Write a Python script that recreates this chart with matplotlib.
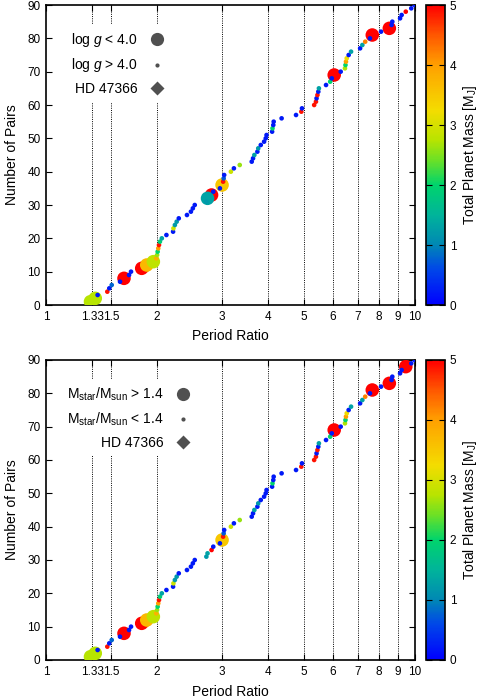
import numpy as np
import matplotlib
matplotlib.use("Agg")
import matplotlib.pyplot as plt
from matplotlib.colors import LinearSegmentedColormap, Normalize
from matplotlib.lines import Line2D
import matplotlib.ticker as mticker

plt.rcParams['font.family'] = ['Liberation Sans', 'DejaVu Sans']
plt.rcParams['mathtext.fontset'] = 'custom'
plt.rcParams['mathtext.rm'] = 'Liberation Sans'
plt.rcParams['mathtext.it'] = 'Liberation Sans:italic'
plt.rcParams['mathtext.bf'] = 'Liberation Sans:bold'

# ---------------- data ----------------
period_ratio = [1.32, 1.36, 1.38, 1.466, 1.484, 1.507, 1.587, 1.627, 1.679, 1.70,
                1.817, 1.875, 1.954, 1.99, 2.00, 2.007, 2.015, 2.024, 2.036, 2.06,
                2.12, 2.21, 2.215, 2.235, 2.26, 2.29, 2.41, 2.47, 2.50, 2.53,
                2.72, 2.74, 2.81, 2.84, 2.96, 3.00, 3.02, 3.03, 3.04, 3.17,
                3.23, 3.35, 3.61, 3.64, 3.67, 3.74, 3.76, 3.82, 3.90, 3.94,
                3.96, 4.10, 4.11, 4.13, 4.14, 4.35, 4.76, 4.92, 4.94, 5.33,
                5.39, 5.41, 5.44, 5.47, 5.49, 5.74, 5.89, 5.95, 6.04, 6.29,
                6.46, 6.48, 6.50, 6.53, 6.61, 6.71, 7.10, 7.20, 7.33, 7.55,
                7.66, 8.09, 8.52, 8.64, 8.68, 9.11, 9.20, 9.44, 9.77, 9.98]

total_mass = [2.75, 2.75, 0.2, 4.9, 0.2, 0.8, 0.2, 5.0, 0.2, 0.2,
              5.0, 3.7, 2.8, 3.8, 2.6, 2.0, 4.0, 4.9, 1.9, 1.3,
              0.2, 0.2, 2.9, 1.2, 1.2, 0.2, 0.2, 0.2, 0.2, 0.2,
              1.2, 1.3, 5.0, 0.2, 0.2, 3.5, 4.9, 0.7, 0.2, 2.9,
              0.2, 2.6, 0.2, 0.2, 1.3, 0.2, 1.2, 0.2, 0.2, 0.2,
              0.2, 0.2, 2.0, 0.2, 0.2, 0.2, 0.2, 4.9, 0.2, 4.9,
              4.9, 0.2, 4.9, 0.2, 1.3, 0.2, 2.0, 0.2, 5.0, 0.2,
              2.7, 2.0, 4.0, 3.2, 0.2, 1.3, 0.2, 1.3, 4.2, 0.2,
              5.0, 0.2, 5.0, 0.2, 0.2, 0.2, 0.2, 5.0, 0.2, 0.2]

# pair numbers (1-based) of the giant hosts
big_logg = [1, 2, 8, 11, 12, 13, 32, 33, 36, 69, 81, 83]      # log g < 4.0
big_mstar = [1, 2, 8, 11, 12, 13, 36, 69, 81, 83, 88]          # Mstar/Msun > 1.4
hd47366_pair = 12

resonances = [4/3, 1.5, 2, 3, 4, 5, 6, 7, 8, 9]
xtick_vals = [1, 4/3, 1.5, 2, 3, 4, 5, 6, 7, 8, 9, 10]
xtick_labels = ['1', '1.33', '1.5', '2', '3', '4', '5', '6', '7', '8', '9', '10']

# ---------------- style ----------------
cmap = LinearSegmentedColormap.from_list('pm', [
    (0.00, '#0000ff'), (0.12, '#0048e8'), (0.20, '#0088b4'), (0.30, '#00b49a'),
    (0.40, '#00d46c'), (0.48, '#68e028'), (0.55, '#b8e400'), (0.65, '#f4dc00'),
    (0.80, '#ffa000'), (0.90, '#ff5800'), (1.00, '#ff0000')])
norm = Normalize(0, 5)

W, H = 484, 700
fig = plt.figure(figsize=(W / 100, H / 100), dpi=100)

count = np.arange(1, len(period_ratio) + 1)
pr = np.array(period_ratio)
ms = np.array(total_mass)

S_BIG, S_SMALL = 95, 11


def panel(bottom_px, big_list, labels, legend_anchor):
    ax = fig.add_axes([46 / W, bottom_px / H, 369 / W, 300 / H])
    cax = fig.add_axes([426 / W, bottom_px / H, 19 / W, 300 / H])
    ax.set_xscale('log')
    ax.set_xlim(1, 10)
    ax.set_ylim(0, 90)
    for r in resonances:
        ax.axvline(r, color='black', ls=(0, (1, 1.3)), lw=0.7, zorder=1)
    is_big = np.isin(count, big_list)
    # HD 47366 diamond (beneath its circle)
    i = hd47366_pair - 1
    ax.scatter([pr[i]], [count[i]], marker='D', s=50, c=[ms[i]], cmap=cmap,
               norm=norm, linewidths=0, zorder=2)
    # big symbols, heavier first
    bidx = np.where(is_big)[0]
    bidx = bidx[np.argsort(-ms[bidx], kind='stable')]
    ax.scatter(pr[bidx], count[bidx], s=S_BIG, c=ms[bidx], cmap=cmap, norm=norm,
               linewidths=0, zorder=3)
    sidx = np.where(~is_big)[0]
    ax.scatter(pr[sidx], count[sidx], s=S_SMALL, c=ms[sidx], cmap=cmap, norm=norm,
               linewidths=0, zorder=4)

    ax.xaxis.set_major_locator(mticker.FixedLocator(xtick_vals))
    ax.xaxis.set_major_formatter(mticker.FixedFormatter(xtick_labels))
    ax.xaxis.set_minor_locator(mticker.NullLocator())
    ax.set_yticks(np.arange(0, 91, 10))
    ax.tick_params(direction='in', top=True, right=True, length=4, width=0.8,
                   labelsize=8.5, pad=4)
    for s in ax.spines.values():
        s.set_linewidth(1.2)
    ax.set_xlabel('Period Ratio', fontsize=10, labelpad=5)
    ax.set_ylabel('Number of Pairs', fontsize=10, labelpad=6)

    handles = [Line2D([], [], ls='none', marker='o', ms=9.5, color='#505050', mec='none'),
               Line2D([], [], ls='none', marker='o', ms=3, color='#505050', mec='none'),
               Line2D([], [], ls='none', marker='D', ms=7.5, color='#505050', mec='none')]
    leg = ax.legend(handles, labels, loc='upper left', bbox_to_anchor=legend_anchor,
                    markerfirst=False, frameon=True, fancybox=False, framealpha=1,
                    edgecolor='none', facecolor='white', fontsize=10,
                    handlelength=1.0, handletextpad=0.9, labelspacing=0.55,
                    borderpad=0.45, borderaxespad=0)
    leg.set_zorder(6)

    sm = plt.cm.ScalarMappable(norm=norm, cmap=cmap)
    cb = fig.colorbar(sm, cax=cax)
    cb.set_ticks(range(6))
    cb.ax.tick_params(direction='in', length=4, width=0.8, labelsize=8.5,
                      left=True, right=True)
    cb.outline.set_linewidth(1.2)
    cb.set_label('Total Planet Mass [M$_{\\rm J}$]', fontsize=10, labelpad=3)
    return ax


panel(395, big_logg, ['log $g$ < 4.0', 'log $g$ > 4.0', 'HD 47366'], (0.05, 0.935))
panel(40, big_mstar, ['M$_{\\rm star}$/M$_{\\rm sun}$ > 1.4',
                      'M$_{\\rm star}$/M$_{\\rm sun}$ < 1.4', 'HD 47366'], (0.04, 0.935))

fig.savefig('out.png', dpi=100)
